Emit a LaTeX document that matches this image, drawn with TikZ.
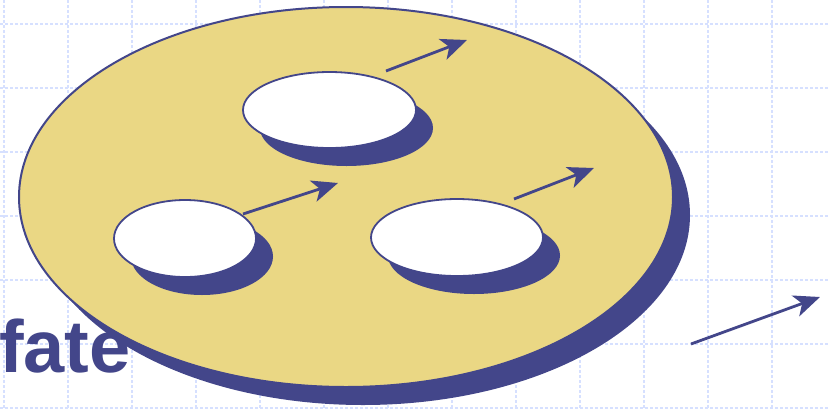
\documentclass[tikz,border=0pt]{standalone}
\usepackage{fontspec}
\setmainfont{Liberation Sans}
\usetikzlibrary{shapes.geometric,arrows.meta,shadows}
\definecolor{db}{HTML}{43468A}
\definecolor{yel}{HTML}{EAD784}
\definecolor{gridc}{HTML}{D6E0FF}
\tikzset{
  gridline/.style={gridc, line width=1.3pt, dash pattern=on 3pt off 2pt},
  sh/.style={drop shadow={shadow xshift=17pt, shadow yshift=-18pt, opacity=1, fill=db, draw=none}},
  disc/.style={ellipse, inner sep=0pt, draw=db, line width=2pt, fill=yel},
  hole/.style={ellipse, inner sep=0pt, draw=db, line width=1.8pt, fill=white},
  arr/.style={db, line width=2.8pt, -{Stealth[length=26pt, width=22pt, inset=7pt]}},
  label/.style={inner sep=0pt, text=db, font=\bfseries\fontsize{74}{74}\selectfont}
}
\begin{document}
\begin{tikzpicture}[x=1pt, y=-1pt]
\useasboundingbox (0,0) rectangle (828,408);
\clip (0,0) rectangle (828,408);
\fill[white] (0,0) rectangle (828,408);
\foreach \gx in {4,68,...,836} \draw[gridline] (\gx,0) -- (\gx,408);
\foreach \gy in {24,88,...,408} \draw[gridline] (0,\gy) -- (828,\gy);
\node[disc, sh, minimum width=654pt, minimum height=380pt] (big) at (346,197) {};
\node[hole, sh, minimum width=173pt, minimum height=76pt] (top) at (329.5,110) {};
\node[hole, sh, minimum width=142pt, minimum height=77pt] (left) at (185,238.5) {};
\node[hole, sh, minimum width=172pt, minimum height=77pt] (right) at (457,237.5) {};
\node[label, anchor=base east] (fate) at (131,372) {fate};
\coordinate (a1s) at (386,71);
\coordinate (a1e) at (467,40);
\coordinate (a2s) at (243,214);
\coordinate (a2e) at (338,183);
\coordinate (a3s) at (514,199);
\coordinate (a3e) at (594,168);
\coordinate (a4s) at (691,344);
\coordinate (a4e) at (820,297);
\draw[arr] (a1s) -- (a1e);
\draw[arr] (a2s) -- (a2e);
\draw[arr] (a3s) -- (a3e);
\draw[arr] (a4s) -- (a4e);
\end{tikzpicture}
\end{document}
